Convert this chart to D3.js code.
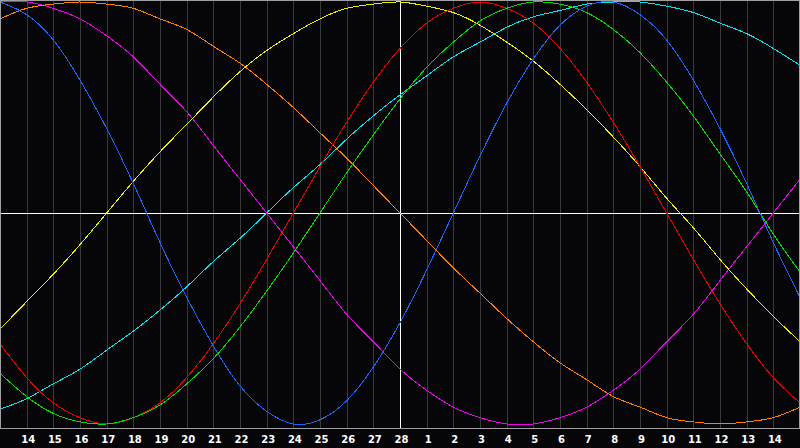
<!DOCTYPE html>
<html>
<head>
<meta charset="utf-8">
<script src="https://cdn.jsdelivr.net/npm/d3@7"></script>
<style>
  html, body { margin: 0; padding: 0; background: #060608; }
  svg { display: block; }
</style>
</head>
<body>
<svg id="chart" width="800" height="448"></svg>
<script>
// Day-of-month for each sample (13 Feb .. 15 Mar); edge samples are off-label
const days = [13,14,15,16,17,18,19,20,21,22,23,24,25,26,27,28,1,2,3,4,5,6,7,8,9,10,11,12,13,14,15];
// Tick labels (shown days)
const tickLabels = ["14","15","16","17","18","19","20","21","22","23","24","25","26","27","28","1","2","3","4","5","6","7","8","9","10","11","12","13","14"];
const todayLabel = "28";

// Series values (percent, -100..100), one per day in `days`
const red     = [-62,-78,-90,-97,-100,-97,-90,-78,-62,-43,-22,0,22,43,62,78,90,97,100,97,90,78,62,43,22,0,-22,-43,-62,-78,-90];
const green   = [-76,-87,-95,-99,-100,-97,-91,-81,-69,-54,-37,-19,0,19,37,54,69,81,91,97,100,99,95,87,76,62,46,28,10,-10,-28];
const blue    = [100,94,82,63,40,14,-14,-40,-63,-82,-94,-100,-98,-89,-73,-52,-27,0,27,52,73,89,98,100,94,82,63,40,14,-14,-40];
const cyan    = [-93,-88,-81,-74,-65,-56,-46,-35,-23,-12,0,12,23,35,46,56,65,74,81,88,93,96,99,100,100,98,95,90,85,78,70];
const magenta = [100,100,97,92,84,74,61,48,32,16,0,-16,-32,-48,-61,-74,-84,-92,-97,-100,-100,-97,-92,-84,-74,-61,-48,-32,-16,0,16];
const yellow  = [-55,-42,-29,-15,0,15,29,42,55,67,77,85,92,97,99,100,98,95,89,81,72,61,49,36,22,7,-7,-22,-36,-49,-61];
const orange  = [92,97,99,100,99,97,92,87,79,71,61,50,38,26,13,0,-13,-26,-38,-50,-61,-71,-79,-87,-92,-97,-99,-100,-99,-97,-92];

const seriesNames = ["cyan","magenta","orange","yellow","red","green","blue"];
const seriesValues = [cyan, magenta, orange, yellow, red, green, blue];
const seriesColors = ["#00e8f0","#f000f0","#ff8000","#f0f000","#f00000","#00e000","#1a66ff"];

const W = 800, H = 448, plotBottom = 428;
const svg = d3.select("#chart");

svg.append("rect").attr("x",0).attr("y",0).attr("width",W).attr("height",H).attr("fill","#060608");

// index scale: sample i (0..30) -> x
const x = d3.scaleLinear().domain([0, days.length - 1]).range([0, W]);
const y = d3.scaleLinear().domain([-100, 100]).range([424, 2]);

// vertical grid lines
svg.append("g").selectAll("line")
  .data(d3.range(1, days.length - 1))
  .join("line")
  .attr("x1", d => Math.round(x(d)) + 0.5).attr("x2", d => Math.round(x(d)) + 0.5)
  .attr("y1", 0).attr("y2", plotBottom)
  .attr("stroke", "#3a3a3a").attr("stroke-width", 1)
  .attr("shape-rendering", "crispEdges");

// horizontal zero line
svg.append("line")
  .attr("x1", 0).attr("x2", W)
  .attr("y1", Math.round(y(0)) + 0.5).attr("y2", Math.round(y(0)) + 0.5)
  .attr("stroke", "#ffffff").attr("stroke-width", 1).attr("shape-rendering", "crispEdges");

// today line
const todayIdx = days.indexOf(+todayLabel);
svg.append("line")
  .attr("x1", Math.round(x(todayIdx)) + 0.5).attr("x2", Math.round(x(todayIdx)) + 0.5)
  .attr("y1", 0).attr("y2", plotBottom)
  .attr("stroke", "#ffffff").attr("stroke-width", 1).attr("shape-rendering", "crispEdges");

// curves
const line = d3.line()
  .x((d, i) => x(i))
  .y(d => y(d))
  .curve(d3.curveNatural);

svg.append("g").selectAll("path")
  .data(seriesValues)
  .join("path")
  .attr("class", (d, i) => "series " + seriesNames[i])
  .attr("d", d => line(d))
  .attr("fill", "none")
  .attr("stroke", (d, i) => seriesColors[i])
  .attr("stroke-width", 1)
  .attr("shape-rendering", "crispEdges");

// border
svg.append("rect")
  .attr("x", 0.5).attr("y", 0.5).attr("width", W - 1).attr("height", plotBottom - 0.5)
  .attr("fill", "none").attr("stroke", "#a0a0a0").attr("stroke-width", 1)
  .attr("shape-rendering", "crispEdges");

// bottom axis with labels
const axis = d3.axisBottom(x)
  .tickValues(d3.range(1, days.length - 1))
  .tickFormat((d, i) => tickLabels[i])
  .tickSize(0)
  .tickPadding(0);

const gAxis = svg.append("g").attr("transform", `translate(1,${plotBottom})`).call(axis);
gAxis.select(".domain").remove();
gAxis.selectAll("text")
  .attr("dy", null)
  .attr("y", 15)
  .attr("fill", "#ffffff")
  .attr("font-family", "'DejaVu Sans', sans-serif")
  .attr("font-weight", "bold")
  .attr("font-size", "10px");
</script>
</body>
</html>
